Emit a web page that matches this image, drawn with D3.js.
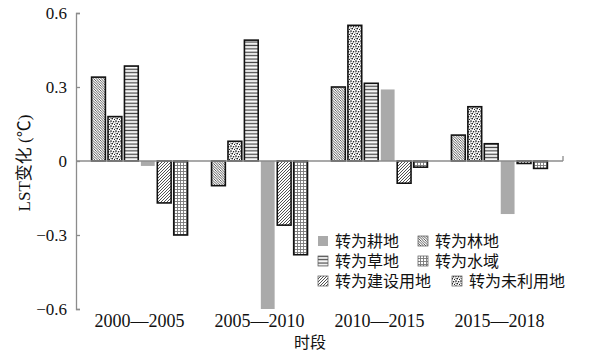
<!DOCTYPE html>
<html>
<head>
<meta charset="utf-8">
<script src="https://cdn.jsdelivr.net/npm/d3@7"></script>
<style>
  html, body { margin: 0; padding: 0; background: #fff; }
  svg { display: block; }
  text { font-family: "Liberation Serif", "Noto Sans CJK SC", serif; fill: #111; }
</style>
</head>
<body>
<svg id="chart" width="590" height="360"></svg>
<script>
// ---- data ----
const periods = ["2000\u20142005", "2005\u20142010", "2010\u20142015", "2015\u20142018"];
const seriesNames = ["转为林地", "转为未利用地", "转为草地", "转为耕地", "转为建设用地", "转为水域"];
const forest    = [0.34, -0.10, 0.30, 0.105];
const unused    = [0.18, 0.08, 0.55, 0.22];
const grass     = [0.385, 0.49, 0.315, 0.07];
const cropland  = [-0.02, -0.60, 0.29, -0.215];
const builtup   = [-0.17, -0.26, -0.09, -0.01];
const water     = [-0.30, -0.38, -0.025, -0.03];
const yTicks = [0.6, 0.3, 0, -0.3, -0.6];
const legendOrder = ["转为耕地", "转为林地", "转为草地", "转为水域", "转为建设用地", "转为未利用地"];

const seriesValues = {
  "转为林地": forest, "转为未利用地": unused, "转为草地": grass,
  "转为耕地": cropland, "转为建设用地": builtup, "转为水域": water
};
const fills = {
  "转为林地": "url(#pBack)", "转为未利用地": "url(#pDots)", "转为草地": "url(#pHoriz)",
  "转为耕地": "#aaaaaa", "转为建设用地": "url(#pFwd)", "转为水域": "url(#pGrid)"
};

const svg = d3.select("#chart");
const defs = svg.append("defs");

// patterns
let p = defs.append("pattern").attr("id", "pBack").attr("patternUnits", "userSpaceOnUse").attr("width", 2.5).attr("height", 2.5);
p.append("rect").attr("width", 2.5).attr("height", 2.5).attr("fill", "#fff");
p.append("path").attr("d", "M0,0L2.5,2.5M-1,1.5L1,3.5M1.5,-1L3.5,1").attr("stroke", "#333").attr("stroke-width", 0.8);

p = defs.append("pattern").attr("id", "pFwd").attr("patternUnits", "userSpaceOnUse").attr("width", 3).attr("height", 3);
p.append("rect").attr("width", 3).attr("height", 3).attr("fill", "#fff");
p.append("path").attr("d", "M0,3L3,0M-1,1L1,-1M2,4L4,2").attr("stroke", "#333").attr("stroke-width", 0.85);

p = defs.append("pattern").attr("id", "pHoriz").attr("patternUnits", "userSpaceOnUse").attr("width", 4).attr("height", 3.4);
p.append("rect").attr("width", 4).attr("height", 3.4).attr("fill", "#fff");
p.append("rect").attr("y", 0.6).attr("width", 4).attr("height", 1.3).attr("fill", "#444");

p = defs.append("pattern").attr("id", "pDots").attr("patternUnits", "userSpaceOnUse").attr("width", 5).attr("height", 5);
p.append("rect").attr("width", 5).attr("height", 5).attr("fill", "#fff");
[[1, 1, 0.85], [3.6, 1.8, 0.8], [2.2, 3.6, 0.85], [4.6, 4.4, 0.6], [0.2, 3.0, 0.5]].forEach(d =>
  p.append("circle").attr("cx", d[0]).attr("cy", d[1]).attr("r", d[2]).attr("fill", "#111"));

p = defs.append("pattern").attr("id", "pGrid").attr("patternUnits", "userSpaceOnUse").attr("width", 3).attr("height", 3);
p.append("rect").attr("width", 3).attr("height", 3).attr("fill", "#fff");
p.append("path").attr("d", "M0,0.5H3M0.5,0V3").attr("stroke", "#777").attr("stroke-width", 0.9);

// scales
const y = d3.scaleLinear().domain([-0.6, 0.6]).range([309, 13]);
const x0 = d3.scaleBand().domain(periods).range([76, 563]).paddingInner(0.2).paddingOuter(0.13);
const x1 = d3.scaleBand().domain(seriesNames).range([0, x0.bandwidth()]).paddingInner(0.16).paddingOuter(0);

// bars
const gBars = svg.append("g");
periods.forEach((per, i) => {
  seriesNames.forEach(s => {
    const v = seriesValues[s][i];
    const isGray = s === "转为耕地";
    gBars.append("rect")
      .attr("x", x0(per) + x1(s))
      .attr("y", y(Math.max(0, v)))
      .attr("width", x1.bandwidth())
      .attr("height", Math.abs(y(v) - y(0)))
      .attr("fill", fills[s])
      .attr("stroke", isGray ? "none" : "#111")
      .attr("stroke-width", isGray ? 0 : 1.6);
  });
});

// y axis
const axisColor = "#8c8c8c";
const yAxis = svg.append("g").attr("transform", "translate(76,0)")
  .call(d3.axisRight(y).tickValues(yTicks).tickSize(4).tickFormat(d => d === 0 ? "0" : (d < 0 ? "\u2212" + d3.format(".1f")(-d) : d3.format(".1f")(d))));
yAxis.selectAll("path, line").attr("stroke", axisColor).attr("stroke-width", 1.3);
yAxis.selectAll("text").attr("x", -9).attr("text-anchor", "end").attr("dy", "0.35em")
  .style("font-size", "17px").attr("fill", "#111");

// zero line
svg.append("line").attr("x1", 76).attr("x2", 563).attr("y1", y(0)).attr("y2", y(0))
  .attr("stroke", axisColor).attr("stroke-width", 1.3);
svg.append("line").attr("x1", 563).attr("x2", 563).attr("y1", y(0)).attr("y2", y(0) - 5)
  .attr("stroke", axisColor).attr("stroke-width", 1.3);

// x labels
svg.append("g").selectAll("text").data(periods).join("text")
  .attr("x", d => x0(d) + x0.bandwidth() / 2)
  .attr("y", 327)
  .attr("text-anchor", "middle")
  .style("font-size", "18px")
  .text(d => d);

svg.append("text").attr("x", 310).attr("y", 348).attr("text-anchor", "middle")
  .style("font-size", "16px").text("时段");

svg.append("text").attr("transform", "translate(30,163) rotate(-90)")
  .attr("text-anchor", "middle").style("font-size", "17px").text("LST变化 (℃)");

// legend
const legendPos = [
  [318, 241], [418, 241],
  [318, 261], [418, 261],
  [318, 281], [452, 281]
];
const lg = svg.append("g");
legendOrder.forEach((s, i) => {
  const [lx, ly] = legendPos[i];
  const isGray = s === "转为耕地";
  lg.append("rect").attr("x", lx).attr("y", ly - 5).attr("width", 10).attr("height", 10)
    .attr("fill", fills[s]).attr("stroke", isGray ? "none" : "#555").attr("stroke-width", 0.7);
  lg.append("text").attr("x", lx + 17).attr("y", ly).attr("dy", "0.36em")
    .style("font-size", "16px").attr("fill", "#222").text(s);
});
</script>
</body>
</html>
